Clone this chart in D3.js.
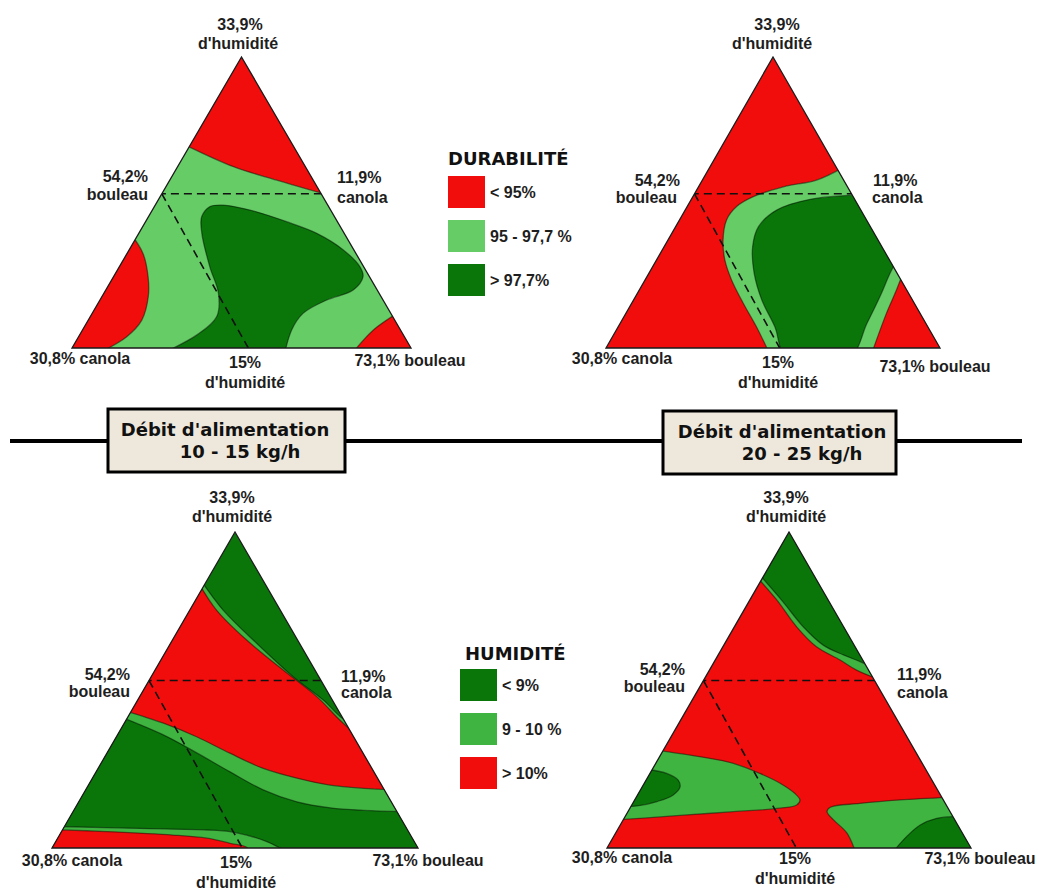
<!DOCTYPE html>
<html>
<head>
<meta charset="utf-8">
<script src="https://cdn.jsdelivr.net/npm/d3@7"></script>
<style>
  body { margin: 0; background: #fff; }
  svg { display: block; }
  .lbl { font-family: "Liberation Sans", Arial, sans-serif; font-weight: bold; font-size: 16px; fill: #1e1e1e; }
  .ttl { font-family: "DejaVu Sans", Verdana, sans-serif; font-weight: bold; font-size: 18px; fill: #111; }
</style>
</head>
<body>
<svg width="1046" height="891"></svg>
<script>
// ternary points are [humidite share, bouleau share], canola = 1 - h - b
// (points just outside the edges get clipped)

// --- Durabilite, 10-15 kg/h
const tlRedTop = [[0.70,-0.02],[0.623,0.165],[0.577,0.315],[0.525,0.495]];
const tlRedTopOut = [[0.5,0.6],[1.2,0.0],[0.72,-0.1]];
const tlRedLeft = [[0.39,-0.02],[0.325,0.047],[0.245,0.102],[0.176,0.137],[0.096,0.158],[0.039,0.142],[-0.02,0.085]];
const tlRedLeftOut = [[-0.1,0.08],[-0.1,-0.1],[0.39,-0.1]];
const tlDark = [[-0.03,0.26],[0.045,0.346],[0.108,0.373],[0.188,0.338],[0.279,0.267],[0.394,0.186],[0.451,0.157],[0.486,0.164],[0.491,0.200],[0.474,0.288],[0.434,0.416],[0.394,0.525],[0.337,0.632],[0.279,0.710],[0.245,0.736],[0.199,0.730],[0.165,0.669],[0.119,0.622],[0.062,0.617],[-0.03,0.64]];
const tlDarkOut = [[-0.1,0.65],[-0.1,0.25]];
const tlRedCorner = [[0.12,0.90],[0.062,0.858],[-0.02,0.835]];
const tlRedCornerOut = [[-0.1,1.2],[0.15,0.95]];

// --- Durabilite, 20-25 kg/h
const trLight = [[0.62,0.40],[0.577,0.342],[0.554,0.254],[0.520,0.181],[0.486,0.148],[0.440,0.141],[0.371,0.165],[0.302,0.205],[0.234,0.259],[0.154,0.334],[0.073,0.414],[-0.02,0.50]];
const trLightOut = [[-0.1,0.5],[-0.1,1.3],[0.7,0.45]];
const trRedCorner = [[-0.02,0.805],[0.119,0.780],[0.199,0.770],[0.26,0.76]];
const trRedCornerOut = [[0.3,0.8],[-0.1,1.2]];
const trDark = [[0.526,0.50],[0.511,0.356],[0.474,0.274],[0.417,0.248],[0.348,0.265],[0.257,0.315],[0.165,0.384],[0.073,0.469],[-0.03,0.555],[-0.03,0.745],[0.085,0.739],[0.176,0.732],[0.257,0.722],[0.30,0.72]];
const trDarkOut = [[0.35,0.8],[0.6,0.5]];

// --- Humidite, 10-15 kg/h (bands painted from the apex down)
const blBand1 = [[0.85,-0.02],[0.753,0.091],[0.648,0.235],[0.542,0.388],[0.468,0.507],[0.416,0.579],[0.38,0.64]];
const blBand2 = [[0.84,-0.02],[0.753,0.073],[0.658,0.203],[0.563,0.350],[0.479,0.484],[0.405,0.584],[0.335,0.685]];
const blBand3 = [[0.435,-0.02],[0.395,0.107],[0.352,0.219],[0.300,0.336],[0.252,0.451],[0.221,0.559],[0.199,0.660],[0.189,0.757],[0.185,0.835]];
const blBand4 = [[0.415,-0.02],[0.358,0.125],[0.301,0.245],[0.241,0.366],[0.184,0.485],[0.146,0.596],[0.127,0.697],[0.119,0.792],[0.115,0.905]];
const blBase1 = [[0.068,-0.02],[0.062,0.209],[0.057,0.395],[0.052,0.460],[0.041,0.511],[0.020,0.577],[-0.02,0.665]];
const blBase2 = [[0.058,-0.02],[0.052,0.123],[0.041,0.310],[0.031,0.408],[0.015,0.479],[0.002,0.531],[-0.02,0.555]];

// --- Humidite, 20-25 kg/h
const brTopLight = [[0.86,-0.02],[0.785,0.074],[0.700,0.171],[0.637,0.257],[0.595,0.343],[0.563,0.404],[0.53,0.49]];
const brTopDark = [[0.87,-0.02],[0.779,0.094],[0.700,0.189],[0.642,0.273],[0.611,0.344],[0.590,0.400],[0.568,0.452]];
const brLeftLight = [[0.31,-0.02],[0.289,0.110],[0.268,0.213],[0.236,0.302],[0.205,0.373],[0.173,0.429],[0.152,0.454],[0.136,0.453],[0.126,0.412],[0.115,0.290],[0.104,0.158],[0.094,0.044],[0.089,-0.02]];
const brLeftDark = [[0.25,-0.02],[0.236,0.046],[0.215,0.088],[0.194,0.104],[0.168,0.098],[0.147,0.064],[0.133,0.016],[0.13,-0.02]];
const brRightLight = [[0.16,0.86],[0.152,0.729],[0.141,0.624],[0.129,0.549],[0.115,0.547],[0.089,0.578],[0.047,0.636],[-0.02,0.695]];
const brRightLightOut = [[-0.1,0.7],[-0.1,1.2],[0.2,0.9]];
const brRightDark = [[-0.02,0.79],[0.036,0.805],[0.073,0.824],[0.094,0.859],[0.1,0.92]];
const brRightDarkOut = [[0.15,0.95],[-0.1,1.2],[-0.1,0.79]];

// reference lines (humidity level, bouleau share where the slanted line meets the base)
const dashLevel = 0.53;
const dashBase = 0.52;

const legendDur = ['< 95%', '95 - 97,7 %', '> 97,7%'];
const legendHum = ['< 9%', '9 - 10 %', '> 10%'];
const rateLabels = [['Débit d\'alimentation', '10 - 15 kg/h'], ['Débit d\'alimentation', '20 - 25 kg/h']];

const col = { red: '#f20d0d', light: '#66cc66', light2: '#40b440', dark: '#0a760a' };

// closures for bands that run from the left edge to the right edge
const below = c => [[c[c.length-1][0], 1.2 - c[c.length-1][0]], [-0.1,1.2], [-0.1,-0.1], [c[0][0],-0.1]];
const above = c => [[1.2,0.0], [c[0][0],-0.1]];
const leftBlob = c => [[c[c.length-1][0],-0.1], [c[0][0],-0.1]];

const panels = [
  { id: 'tl', L: [72,348], R: [411,348], apexY: 57, bg: col.light, layers: [
      [tlRedTop, tlRedTopOut, col.red], [tlRedLeft, tlRedLeftOut, col.red],
      [tlDark, tlDarkOut, col.dark], [tlRedCorner, tlRedCornerOut, col.red]] },
  { id: 'tr', L: [606,348], R: [940,348], apexY: 57, bg: col.red, layers: [
      [trLight, trLightOut, col.light], [trRedCorner, trRedCornerOut, col.red],
      [trDark, trDarkOut, col.dark]] },
  { id: 'bl', L: [52,848], R: [418,848], apexY: 532, bg: col.dark, layers: [
      [blBand1, below(blBand1), col.light2], [blBand2, below(blBand2), col.red],
      [blBand3, below(blBand3), col.light2], [blBand4, below(blBand4), col.dark],
      [blBase1, [[-0.1,0.68],[-0.1,-0.1],[0.068,-0.1]], col.light2],
      [blBase2, [[-0.1,0.56],[-0.1,-0.1],[0.058,-0.1]], col.red]] },
  { id: 'br', L: [607,848], R: [971,848], apexY: 532, bg: col.red, layers: [
      [brTopLight, above(brTopLight), col.light2], [brTopDark, above(brTopDark), col.dark],
      [brLeftLight, leftBlob(brLeftLight), col.light2], [brLeftDark, leftBlob(brLeftDark), col.dark],
      [brRightLight, brRightLightOut, col.light2], [brRightDark, brRightDarkOut, col.dark]] }
];

const svg = d3.select('svg');

panels.forEach(p => {
  const xScale = d3.scaleLinear().domain([0,1]).range([p.L[0], p.R[0]]);
  const yScale = d3.scaleLinear().domain([0,1]).range([p.L[1], p.apexY]);
  const px = d => xScale(d[1] + d[0] / 2);
  const py = d => yScale(d[0]);
  const corners = [[0,0],[0,1],[1,0]];
  const tri = corners.map(c => [px(c), py(c)]);

  const line = d3.line().x(px).y(py).curve(d3.curveCatmullRom.alpha(0.5));

  svg.append('clipPath').attr('id', 'clip-' + p.id)
    .append('polygon').attr('points', tri.join(' '));

  const g = svg.append('g').attr('clip-path', `url(#clip-${p.id})`);
  g.append('polygon').attr('points', tri.join(' ')).attr('fill', p.bg);

  p.layers.forEach(([pts, out, fill]) => {
    let d = line(pts);
    out.forEach(o => { d += `L${px(o)},${py(o)}`; });
    g.append('path').attr('d', d + 'Z').attr('fill', fill);
    g.append('path').attr('d', line(pts))
      .attr('fill', 'none').attr('stroke', 'rgba(0,0,0,0.45)').attr('stroke-width', 1.3);
  });

  // dashed reference lines
  g.append('path')
    .attr('d', d3.line().x(px).y(py)([[dashLevel,-0.05],[dashLevel,1.05-dashLevel]]))
    .attr('fill', 'none').attr('stroke', '#111').attr('stroke-width', 1.6).attr('stroke-dasharray', '8,5');
  g.append('path')
    .attr('d', d3.line().x(px).y(py)([[dashLevel,0],[0,dashBase]]))
    .attr('fill', 'none').attr('stroke', '#111').attr('stroke-width', 1.6).attr('stroke-dasharray', '8,5');

  svg.append('polygon').attr('points', tri.join(' '))
    .attr('fill', 'none').attr('stroke', '#1a1a1a').attr('stroke-width', 1.3);
});

// vertex labels: [text, x, y, anchor]
const labelPos = {
  tl: [['33,9%',240,30,'middle'],['d\'humidité',238,49,'middle'],['54,2%',148,182,'end'],['bouleau',148,200,'end'],
       ['11,9%',337,183,'start'],['canola',337,203,'start'],['30,8% canola',80,364,'middle'],['15%',245,368,'middle'],
       ['d\'humidité',245,388,'middle'],['73,1% bouleau',410,366,'middle']],
  tr: [['33,9%',777,30,'middle'],['d\'humidité',772,49,'middle'],['54,2%',680,186,'end'],['bouleau',677,203,'end'],
       ['11,9%',873,186,'start'],['canola',872,203,'start'],['30,8% canola',622,364,'middle'],['15%',778,368,'middle'],
       ['d\'humidité',778,388,'middle'],['73,1% bouleau',935,372,'middle']],
  bl: [['33,9%',232,503,'middle'],['d\'humidité',232,522,'middle'],['54,2%',130,680,'end'],['bouleau',130,697,'end'],
       ['11,9%',341,682,'start'],['canola',341,698,'start'],['30,8% canola',72,866,'middle'],['15%',236,868,'middle'],
       ['d\'humidité',236,888,'middle'],['73,1% bouleau',428,866,'middle']],
  br: [['33,9%',786,503,'middle'],['d\'humidité',786,522,'middle'],['54,2%',685,675,'end'],['bouleau',685,692,'end'],
       ['11,9%',897,680,'start'],['canola',897,698,'start'],['30,8% canola',622,863,'middle'],['15%',795,864,'middle'],
       ['d\'humidité',795,884,'middle'],['73,1% bouleau',980,864,'middle']]
};
Object.values(labelPos).forEach(list => {
  svg.append('g').selectAll('text').data(list).enter().append('text')
    .attr('class', 'lbl')
    .attr('x', d => d[1]).attr('y', d => d[2])
    .attr('text-anchor', d => d[3])
    .text(d => d[0]);
});

// legends
const legends = [
  { title: 'DURABILITÉ', tx: 448, ty: 165, x: 448, y0: 176, labels: legendDur, fills: [col.red, col.light, col.dark] },
  { title: 'HUMIDITÉ', tx: 465, ty: 660, x: 460, y0: 669, labels: legendHum, fills: [col.dark, col.light2, col.red] }
];
legends.forEach(lg => {
  const g = svg.append('g');
  g.append('text').attr('class', 'ttl').attr('x', lg.tx).attr('y', lg.ty).text(lg.title);
  const items = g.selectAll('g.item').data(lg.labels).enter().append('g')
    .attr('transform', (d, i) => `translate(${lg.x},${lg.y0 + i * 44})`);
  items.append('rect').attr('width', 37).attr('height', 32).attr('fill', (d, i) => lg.fills[i]);
  items.append('text').attr('class', 'lbl').attr('x', 42).attr('y', 22).text(d => d);
});

// feed-rate separator
svg.append('line').attr('x1', 10).attr('x2', 1022).attr('y1', 441).attr('y2', 441)
  .attr('stroke', '#000').attr('stroke-width', 4);
const boxes = [
  { x: 108, y: 409, w: 237, h: 63, c1: 225, c2: 240 },
  { x: 663, y: 411, w: 233, h: 63, c1: 782, c2: 802 }
];
boxes.forEach((b, i) => {
  svg.append('rect').attr('x', b.x).attr('y', b.y).attr('width', b.w).attr('height', b.h)
    .attr('fill', '#ede7dc').attr('stroke', '#000').attr('stroke-width', 3);
  svg.append('text').attr('class', 'ttl').attr('x', b.c1).attr('y', b.y + 27)
    .attr('text-anchor', 'middle').text(rateLabels[i][0]);
  svg.append('text').attr('class', 'ttl').attr('x', b.c2).attr('y', b.y + 49)
    .attr('text-anchor', 'middle').text(rateLabels[i][1]);
});
</script>
</body>
</html>
